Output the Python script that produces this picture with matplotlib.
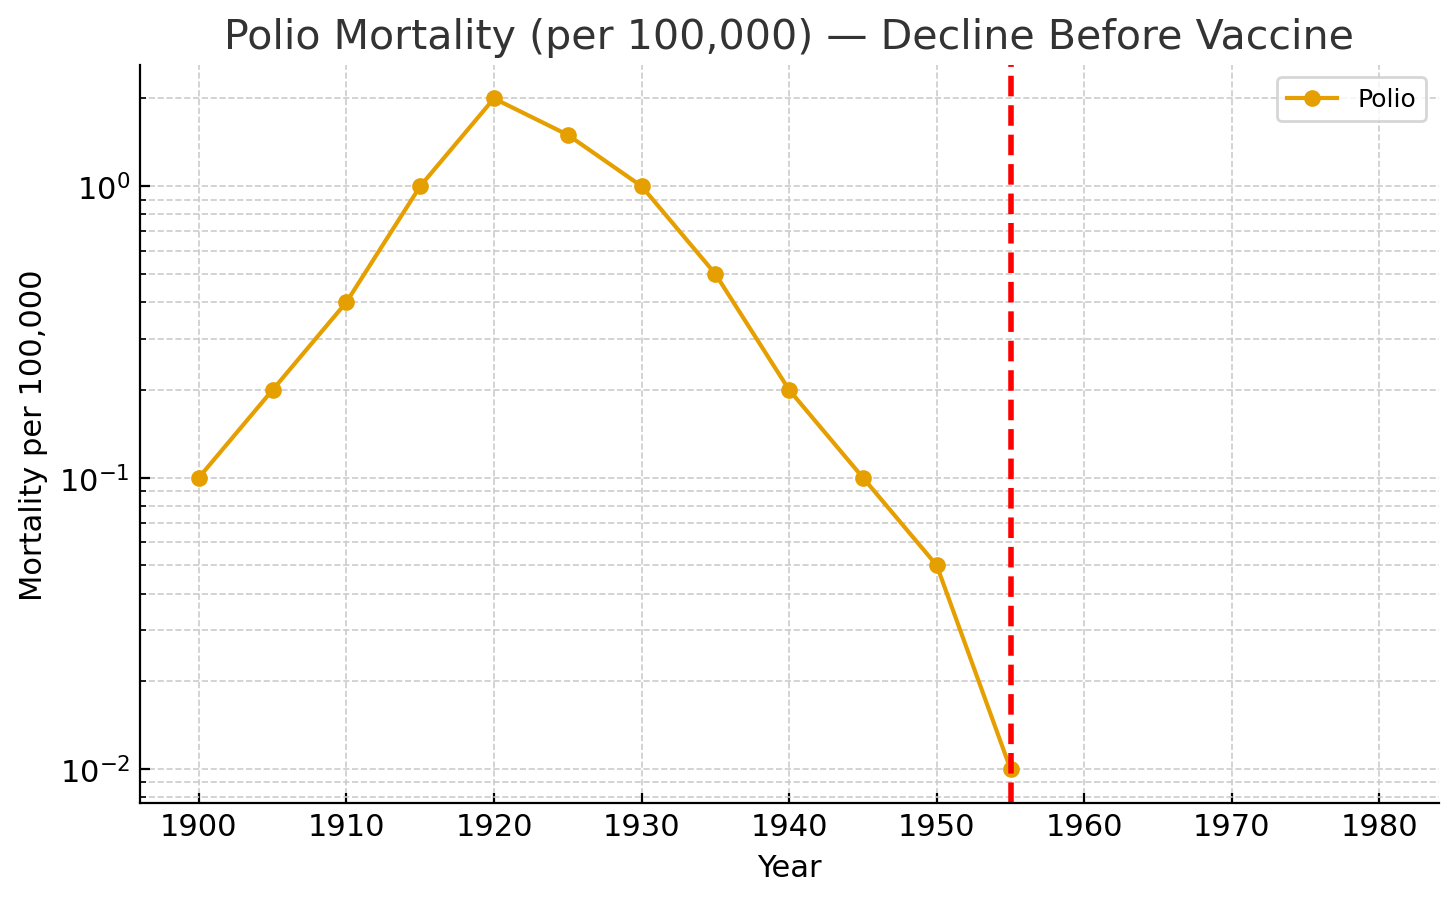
import matplotlib
matplotlib.use("Agg")
import matplotlib.pyplot as plt

years = [1900, 1905, 1910, 1915, 1920, 1925, 1930, 1935, 1940, 1945, 1950, 1955]
polio = [0.1, 0.2, 0.4, 1.0, 2.0, 1.5, 1.0, 0.5, 0.2, 0.1, 0.05, 0.01]
vaccine_year = 1955

plt.rcParams['font.family'] = ['DejaVu Sans']

fig, ax = plt.subplots(figsize=(7.28, 4.515), dpi=200)

ax.plot(years, polio, marker='o', color='#E69F00', linewidth=1.5, markersize=5, label='Polio')
ax.axvline(vaccine_year, color='red', linestyle='--', linewidth=2)

ax.set_yscale('log')
ax.set_xlim(1896, 1984)
ax.set_xticks(range(1900, 1981, 10))

ax.set_title('Polio Mortality (per 100,000) — Decline Before Vaccine', fontsize=14.8, color='#333333')
ax.set_xlabel('Year', fontsize=11)
ax.set_ylabel('Mortality per 100,000', fontsize=11)
ax.tick_params(axis='both', which='both', direction='in', labelsize=11)

ax.grid(True, which='both', linestyle='--', color='#cccccc', linewidth=0.6)
ax.spines['top'].set_visible(False)
ax.spines['right'].set_visible(False)
ax.legend(loc='upper right', fontsize=9)

fig.subplots_adjust(left=0.096, right=0.988, top=0.927, bottom=0.110)
fig.savefig('out.png', dpi=200)
